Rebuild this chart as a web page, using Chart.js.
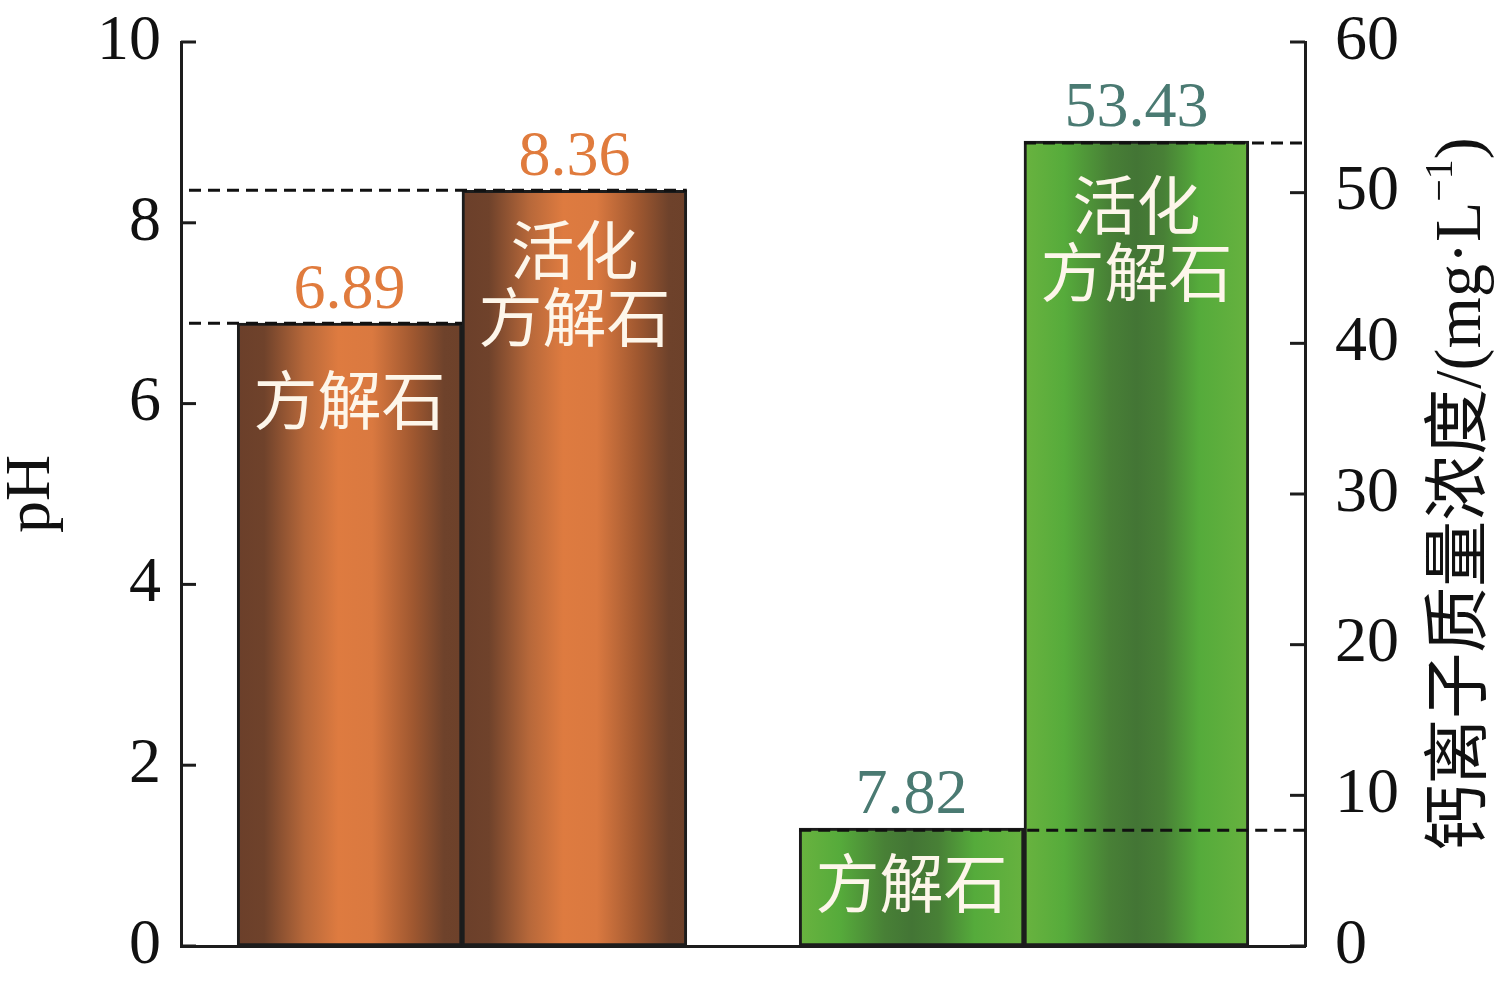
<!DOCTYPE html>
<html><head><meta charset="utf-8">
<script src="https://cdn.jsdelivr.net/npm/chart.js@4"></script>
<style>html,body{margin:0;padding:0;background:#fff}canvas{display:block}</style>
</head><body><canvas id="c" width="1500" height="981"></canvas>
<script>
// ---------- data ----------
const categories = ['方解石', '活化方解石'];
const insideLabels = [['方解石'], ['活化', '方解石']];
const phValues = [6.89, 8.36];
const caValues = [7.82, 53.43];
const phTicks = {min: 0, max: 10, step: 2};
const caTicks = {min: 0, max: 60, step: 10};
const phTitle = 'pH';
const caTitleMain = '钙离子质量浓度/(mg·L';
const caTitleSup = '−1';
const caTitleEnd = ')';

// ---------- layout (units of one bar width) ----------
const X_MARGIN = 0.25, GROUP_GAP = 0.5;
const groupX = (g, i) => X_MARGIN + 0.5 + g * (categories.length + GROUP_GAP) + i;
const X_MAX = 2 * X_MARGIN + 2 * categories.length + GROUP_GAP;

const SERIF = "'Liberation Serif', 'Times New Roman', serif";
const CJK = "'Noto Sans CJK SC', sans-serif";
const AXIS_COLOR = '#1c1c1c';
const brownStops = [[0,'#6b3f2a'],[0.12,'#6f422b'],[0.3,'#b7683a'],[0.45,'#de7b40'],[0.6,'#da7940'],[0.78,'#a05830'],[0.92,'#6e422b'],[1,'#6d412a']];
const greenStops = [[0,'#69b33f'],[0.18,'#56ab3b'],[0.38,'#488036'],[0.5,'#437535'],[0.62,'#488036'],[0.78,'#55ab3b'],[1,'#67b23f']];
const valueColors = ['#e07b3d', '#4a7a72'];
const insideOffsets = [[77, 59], [55, 64]];
const LINE_GAP = 67;

function barGradient(stops) {
  return (ctx) => {
    const chart = ctx.chart;
    const xs = chart.scales && chart.scales.x;
    if (!xs || !chart.chartArea || ctx.type !== 'data' || !ctx.raw) return stops[4][1];
    const cx = xs.getPixelForValue(ctx.raw.x);
    const w = Math.abs(xs.getPixelForValue(1) - xs.getPixelForValue(0));
    const g = chart.ctx.createLinearGradient(cx - w / 2, 0, cx + w / 2, 0);
    stops.forEach(([o, c]) => g.addColorStop(o, c));
    return g;
  };
}

const decor = {
  id: 'decor',
  afterDatasetsDraw(chart) {
    const {ctx, chartArea: a, scales} = chart;
    const line = (x1, y1, x2, y2) => { ctx.beginPath(); ctx.moveTo(x1, y1); ctx.lineTo(x2, y2); ctx.stroke(); };
    ctx.save();
    // inward tick marks
    ctx.strokeStyle = AXIS_COLOR; ctx.lineWidth = 3;
    scales.y.ticks.forEach((t, i) => { const y = scales.y.getPixelForTick(i); line(a.left, y, a.left + 15, y); });
    scales.y1.ticks.forEach((t, i) => { const y = scales.y1.getPixelForTick(i); line(a.right - 15, y, a.right, y); });
    // dashed reference lines
    ctx.setLineDash([12, 7]); ctx.lineWidth = 3; ctx.strokeStyle = '#111';
    chart.getDatasetMeta(0).data.forEach(el => line(a.left + 8, el.y, el.x + el.width / 2, el.y));
    chart.getDatasetMeta(1).data.forEach(el => line(el.x - el.width / 2, el.y + 2, a.right, el.y + 2));
    ctx.setLineDash([]);
    // value labels & inside labels
    [phValues, caValues].forEach((vals, d) => {
      chart.getDatasetMeta(d).data.forEach((el, i) => {
        ctx.font = `64px ${SERIF}`; ctx.fillStyle = valueColors[d];
        ctx.textAlign = 'center'; ctx.textBaseline = 'alphabetic';
        ctx.fillText(vals[i].toFixed(2), el.x, el.y - 15);
        ctx.font = `64px ${CJK}`; ctx.fillStyle = '#fdf6ea'; ctx.textBaseline = 'middle';
        insideLabels[i].forEach((t, k) => ctx.fillText(t, el.x, el.y + insideOffsets[d][i] + k * LINE_GAP));
      });
    });
    // right axis title (reads bottom-to-top)
    const segs = [
      {t: caTitleMain, f: `66px ${SERIF}, ${CJK}`, dy: 0},
      {t: caTitleSup, f: `40px ${SERIF}`, dy: -22},
      {t: caTitleEnd, f: `66px ${SERIF}`, dy: 0}
    ];
    let total = 0;
    segs.forEach(s => { ctx.font = s.f; s.w = ctx.measureText(s.t).width; total += s.w; });
    ctx.translate(scales.y1.right - 37, (a.top + a.bottom) / 2);
    ctx.rotate(-Math.PI / 2);
    ctx.fillStyle = '#111'; ctx.textAlign = 'left'; ctx.textBaseline = 'middle';
    let x = -total / 2;
    segs.forEach(s => { ctx.font = s.f; ctx.fillText(s.t, x, s.dy); x += s.w; });
    ctx.restore();
  }
};

new Chart(document.getElementById('c'), {
  type: 'bar',
  data: {
    datasets: [
      {label: 'pH', yAxisID: 'y', data: phValues.map((v, i) => ({x: groupX(0, i), y: v})),
       backgroundColor: barGradient(brownStops)},
      {label: 'Ca', yAxisID: 'y1', data: caValues.map((v, i) => ({x: groupX(1, i), y: v})),
       backgroundColor: barGradient(greenStops)}
    ]
  },
  options: {
    responsive: false, devicePixelRatio: 1, animation: false,
    layout: {padding: {top: 42, left: 0, right: 0, bottom: 0}},
    datasets: {bar: {grouped: false, barPercentage: 1, categoryPercentage: 1,
      borderColor: AXIS_COLOR, borderWidth: 3, borderSkipped: false}},
    plugins: {legend: {display: false}, tooltip: {enabled: false}},
    scales: {
      x: {type: 'linear', offset: false, min: 0, max: X_MAX, ticks: {display: false, stepSize: 1},
          grid: {display: false, drawTicks: false}, border: {display: true, width: 3, color: AXIS_COLOR},
          afterFit(s) { s.height = 35; s.paddingLeft = 0; s.paddingRight = 0; }},
      y: {position: 'left', min: phTicks.min, max: phTicks.max,
          ticks: {stepSize: phTicks.step, padding: 20, color: '#111', font: {family: SERIF, size: 64}},
          grid: {display: false, drawTicks: false}, border: {display: true, width: 3, color: AXIS_COLOR},
          title: {display: true, text: phTitle, color: '#111', padding: 0, font: {family: SERIF, size: 64, lineHeight: 1}},
          afterFit(s) { s.width = 181; s.paddingTop = 0; s.paddingBottom = 0; }},
      y1: {position: 'right', min: caTicks.min, max: caTicks.max,
          ticks: {stepSize: caTicks.step, padding: 30, color: '#111', font: {family: SERIF, size: 64}},
          grid: {display: false, drawTicks: false}, border: {display: true, width: 3, color: AXIS_COLOR},
          afterFit(s) { s.width = 195; s.paddingTop = 0; s.paddingBottom = 0; }}
    }
  },
  plugins: [decor]
});
</script>
</body></html>
